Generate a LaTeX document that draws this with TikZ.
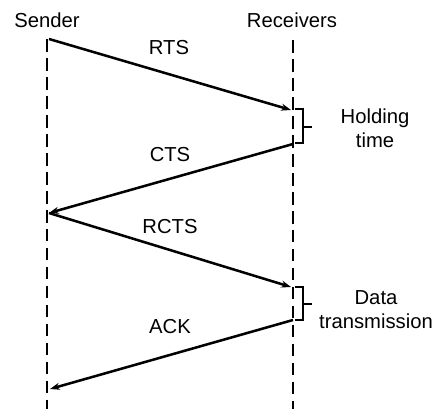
\documentclass[tikz,border=0pt]{standalone}
\usepackage{fontspec}
\setmainfont{Liberation Sans}
\usetikzlibrary{arrows.meta}
\begin{document}
\begin{tikzpicture}[>={Stealth[length=7pt,width=5pt]}, x=0.025cm, y=0.025cm,
    lifeline/.style={line width=2.1pt, dash pattern=on 9pt off 4.5pt},
    msg/.style={->, line width=1.8pt},
    brk/.style={line width=1.4pt},
    lbl/.style={font=\fontsize{14.4}{17}\selectfont, inner sep=0pt, align=center}]
    \useasboundingbox (0,0) rectangle (438,412);

    % Titoli
    \node[lbl] (sender) at (47,392) {Sender};
    \node[lbl] (receivers) at (292,392) {Receivers};

    % Linee verticali
    \coordinate (stop) at (47,373);
    \coordinate (sbot) at (47,3);
    \coordinate (rtop) at (293,372);
    \coordinate (rbot) at (293,3);
    \draw[lifeline] (stop) -- (sbot);
    \draw[lifeline] (rtop) -- (rbot);

    % Messaggi
    \coordinate (rts0) at (49,373);
    \coordinate (rts1) at (291,302);
    \coordinate (cts0) at (293,268);
    \coordinate (cts1) at (49,199);
    \coordinate (rcts1) at (291,125);
    \coordinate (ack0) at (293,92);
    \coordinate (ack1) at (50,23);
    \draw[msg] (rts0) -- (rts1);
    \draw[msg] (cts0) -- (cts1);
    \draw[msg] (cts1) -- (rcts1);
    \draw[msg] (ack0) -- (ack1);

    \node[lbl] (rts) at (169,364) {RTS};
    \node[lbl] (cts) at (170,257) {CTS};
    \node[lbl] (rcts) at (170,185) {RCTS};
    \node[lbl] (ack) at (170,85) {ACK};

    % Parentesi
    \draw[brk] (295,303) -- (303,303) -- (303,269) -- (295,269);
    \draw[brk] (303,285) -- (312,285);
    \draw[brk] (295,125) -- (303,125) -- (303,92) -- (295,92);
    \draw[brk] (303,108) -- (312,108);

    \node[lbl] (hold) at (375,284) {Holding\\time};
    \node[lbl] (data) at (376,102) {Data\\transmission};

\end{tikzpicture}
\end{document}
